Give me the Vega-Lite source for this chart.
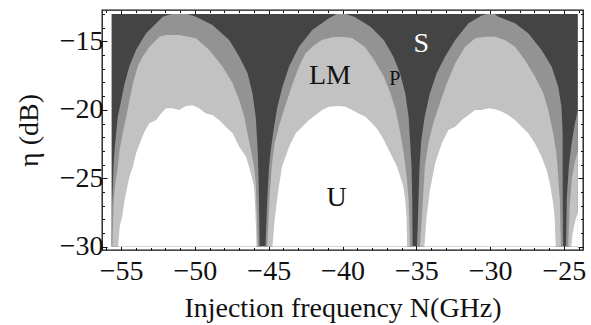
{
  "$schema": "https://vega.github.io/schema/vega-lite/v6.json",
  "autosize": {"type": "none"},
  "width": 481,
  "height": 240,
  "padding": {"left": 102, "top": 10, "right": 8, "bottom": 75},
  "background": "white",
  "config": {
    "view": {"stroke": "#111", "strokeWidth": 1.3},
    "font": "Liberation Serif",
    "axis": {"labelFont": "Liberation Serif", "titleFont": "Liberation Serif", "labelFontSize": 28, "titleFontSize": 28, "labelColor": "#111", "titleColor": "#111", "titleFontWeight": "normal", "domain": false, "grid": false, "tickColor": "#111", "tickWidth": 1}
  },
  "datasets": {
    "bg": [{"x": -55.65, "x2": -24.05, "y": -30, "y2": -13}],
    "regions": [
      {"r":"P","l":1,"x":-55.65,"y":-30},{"r":"P","l":1,"x":-55.62,"y":-27},{"r":"P","l":1,"x":-55.56,"y":-25.4},{"r":"P","l":1,"x":-55.52,"y":-24.2},{"r":"P","l":1,"x":-55.45,"y":-22.9},{"r":"P","l":1,"x":-55.34,"y":-21.7},{"r":"P","l":1,"x":-55.23,"y":-20.5},{"r":"P","l":1,"x":-55.0,"y":-19.3},{"r":"P","l":1,"x":-54.77,"y":-18.1},{"r":"P","l":1,"x":-54.44,"y":-16.8},{"r":"P","l":1,"x":-53.99,"y":-15.6},{"r":"P","l":1,"x":-53.31,"y":-14.4},{"r":"P","l":1,"x":-52.18,"y":-13.2},{"r":"P","l":1,"x":-51.6,"y":-13.0},{"r":"P","l":1,"x":-50.5,"y":-13.0},{"r":"P","l":1,"x":-49.93,"y":-13.2},{"r":"P","l":1,"x":-48.81,"y":-13.8},{"r":"P","l":1,"x":-47.68,"y":-14.9},{"r":"P","l":1,"x":-47.0,"y":-16.1},{"r":"P","l":1,"x":-46.44,"y":-17.3},{"r":"P","l":1,"x":-46.1,"y":-18.8},{"r":"P","l":1,"x":-45.88,"y":-20.5},{"r":"P","l":1,"x":-45.75,"y":-22.9},{"r":"P","l":1,"x":-45.68,"y":-25.4},{"r":"P","l":1,"x":-45.64,"y":-28},{"r":"P","l":1,"x":-45.62,"y":-30},
      {"r":"LM","l":1,"x":-55.6,"y":-30},{"r":"LM","l":1,"x":-55.5,"y":-26.6},{"r":"LM","l":1,"x":-55.4,"y":-25.4},{"r":"LM","l":1,"x":-55.23,"y":-24.2},{"r":"LM","l":1,"x":-55.11,"y":-22.9},{"r":"LM","l":1,"x":-54.89,"y":-21.7},{"r":"LM","l":1,"x":-54.66,"y":-20.5},{"r":"LM","l":1,"x":-54.44,"y":-19.3},{"r":"LM","l":1,"x":-54.21,"y":-18.1},{"r":"LM","l":1,"x":-53.87,"y":-16.8},{"r":"LM","l":1,"x":-53.54,"y":-16.1},{"r":"LM","l":1,"x":-53.09,"y":-15.4},{"r":"LM","l":1,"x":-52.41,"y":-14.65},{"r":"LM","l":1,"x":-51.96,"y":-14.52},{"r":"LM","l":1,"x":-51.06,"y":-14.52},{"r":"LM","l":1,"x":-49.93,"y":-14.77},{"r":"LM","l":1,"x":-49.03,"y":-15.62},{"r":"LM","l":1,"x":-48.13,"y":-16.84},{"r":"LM","l":1,"x":-47.45,"y":-18.06},{"r":"LM","l":1,"x":-47.0,"y":-19.28},{"r":"LM","l":1,"x":-46.66,"y":-20.5},{"r":"LM","l":1,"x":-46.44,"y":-21.72},{"r":"LM","l":1,"x":-46.21,"y":-22.94},{"r":"LM","l":1,"x":-45.99,"y":-24.16},{"r":"LM","l":1,"x":-45.88,"y":-25.37},{"r":"LM","l":1,"x":-45.8,"y":-27.8},{"r":"LM","l":1,"x":-45.75,"y":-30},
      {"r":"U","l":1,"x":-55.2,"y":-30},{"r":"U","l":1,"x":-55.1,"y":-28.5},{"r":"U","l":1,"x":-54.93,"y":-27.8},{"r":"U","l":1,"x":-54.77,"y":-26.6},{"r":"U","l":1,"x":-54.44,"y":-24.9},{"r":"U","l":1,"x":-54.21,"y":-24.16},{"r":"U","l":1,"x":-53.99,"y":-23.18},{"r":"U","l":1,"x":-53.65,"y":-22.21},{"r":"U","l":1,"x":-53.42,"y":-21.6},{"r":"U","l":1,"x":-53.09,"y":-20.99},{"r":"U","l":1,"x":-52.63,"y":-20.74},{"r":"U","l":1,"x":-52.3,"y":-20.26},{"r":"U","l":1,"x":-51.96,"y":-19.89},{"r":"U","l":1,"x":-51.51,"y":-19.89},{"r":"U","l":1,"x":-51.06,"y":-20.01},{"r":"U","l":1,"x":-50.61,"y":-19.72},{"r":"U","l":1,"x":-50.16,"y":-19.67},{"r":"U","l":1,"x":-49.71,"y":-19.89},{"r":"U","l":1,"x":-49.26,"y":-20.26},{"r":"U","l":1,"x":-48.81,"y":-20.38},{"r":"U","l":1,"x":-48.36,"y":-20.74},{"r":"U","l":1,"x":-47.91,"y":-21.23},{"r":"U","l":1,"x":-47.45,"y":-21.72},{"r":"U","l":1,"x":-47.0,"y":-22.7},{"r":"U","l":1,"x":-46.55,"y":-23.42},{"r":"U","l":1,"x":-46.33,"y":-24.16},{"r":"U","l":1,"x":-46.1,"y":-25.13},{"r":"U","l":1,"x":-45.99,"y":-25.62},{"r":"U","l":1,"x":-45.92,"y":-27.08},{"r":"U","l":1,"x":-45.85,"y":-29.03},{"r":"U","l":1,"x":-45.83,"y":-30},
      {"r":"P","l":2,"x":-45.22,"y":-30},{"r":"P","l":2,"x":-45.1,"y":-26.6},{"r":"P","l":2,"x":-44.98,"y":-24.16},{"r":"P","l":2,"x":-44.86,"y":-22.94},{"r":"P","l":2,"x":-44.64,"y":-21.23},{"r":"P","l":2,"x":-44.41,"y":-19.77},{"r":"P","l":2,"x":-44.07,"y":-18.31},{"r":"P","l":2,"x":-43.62,"y":-16.84},{"r":"P","l":2,"x":-42.95,"y":-15.38},{"r":"P","l":2,"x":-42.05,"y":-14.16},{"r":"P","l":2,"x":-40.92,"y":-13.3},{"r":"P","l":2,"x":-40.4,"y":-13.0},{"r":"P","l":2,"x":-39.8,"y":-13.0},{"r":"P","l":2,"x":-39.2,"y":-13.19},{"r":"P","l":2,"x":-38.1,"y":-13.92},{"r":"P","l":2,"x":-37.2,"y":-14.89},{"r":"P","l":2,"x":-36.55,"y":-16.11},{"r":"P","l":2,"x":-36.1,"y":-17.33},{"r":"P","l":2,"x":-35.75,"y":-18.79},{"r":"P","l":2,"x":-35.52,"y":-20.5},{"r":"P","l":2,"x":-35.42,"y":-22.21},{"r":"P","l":2,"x":-35.32,"y":-24.16},{"r":"P","l":2,"x":-35.27,"y":-26.59},{"r":"P","l":2,"x":-35.25,"y":-30},
      {"r":"LM","l":2,"x":-45.1,"y":-30},{"r":"LM","l":2,"x":-44.95,"y":-26.59},{"r":"LM","l":2,"x":-44.8,"y":-24.16},{"r":"LM","l":2,"x":-44.6,"y":-22.45},{"r":"LM","l":2,"x":-44.25,"y":-20.99},{"r":"LM","l":2,"x":-43.9,"y":-19.77},{"r":"LM","l":2,"x":-43.45,"y":-18.31},{"r":"LM","l":2,"x":-42.95,"y":-16.84},{"r":"LM","l":2,"x":-42.5,"y":-15.87},{"r":"LM","l":2,"x":-42.05,"y":-15.38},{"r":"LM","l":2,"x":-41.4,"y":-14.9},{"r":"LM","l":2,"x":-40.7,"y":-14.7},{"r":"LM","l":2,"x":-40.02,"y":-14.65},{"r":"LM","l":2,"x":-39.35,"y":-14.75},{"r":"LM","l":2,"x":-38.5,"y":-15.38},{"r":"LM","l":2,"x":-37.85,"y":-16.35},{"r":"LM","l":2,"x":-37.2,"y":-17.57},{"r":"LM","l":2,"x":-36.75,"y":-18.79},{"r":"LM","l":2,"x":-36.4,"y":-20.0},{"r":"LM","l":2,"x":-36.08,"y":-21.72},{"r":"LM","l":2,"x":-35.85,"y":-23.18},{"r":"LM","l":2,"x":-35.65,"y":-24.89},{"r":"LM","l":2,"x":-35.52,"y":-26.59},{"r":"LM","l":2,"x":-35.42,"y":-30},
      {"r":"U","l":2,"x":-44.75,"y":-30},{"r":"U","l":2,"x":-44.6,"y":-28.05},{"r":"U","l":2,"x":-44.35,"y":-25.86},{"r":"U","l":2,"x":-44.1,"y":-24.16},{"r":"U","l":2,"x":-43.62,"y":-22.7},{"r":"U","l":2,"x":-43.17,"y":-21.72},{"r":"U","l":2,"x":-42.72,"y":-21.23},{"r":"U","l":2,"x":-42.27,"y":-20.74},{"r":"U","l":2,"x":-41.82,"y":-20.38},{"r":"U","l":2,"x":-41.37,"y":-20.01},{"r":"U","l":2,"x":-40.92,"y":-19.77},{"r":"U","l":2,"x":-40.25,"y":-19.72},{"r":"U","l":2,"x":-39.8,"y":-19.77},{"r":"U","l":2,"x":-39.35,"y":-20.01},{"r":"U","l":2,"x":-38.9,"y":-20.26},{"r":"U","l":2,"x":-38.45,"y":-20.5},{"r":"U","l":2,"x":-38.0,"y":-20.99},{"r":"U","l":2,"x":-37.6,"y":-21.48},{"r":"U","l":2,"x":-37.2,"y":-22.21},{"r":"U","l":2,"x":-36.75,"y":-23.18},{"r":"U","l":2,"x":-36.3,"y":-24.16},{"r":"U","l":2,"x":-36.08,"y":-24.89},{"r":"U","l":2,"x":-35.88,"y":-25.62},{"r":"U","l":2,"x":-35.75,"y":-26.59},{"r":"U","l":2,"x":-35.66,"y":-27.81},{"r":"U","l":2,"x":-35.62,"y":-30},
      {"r":"P","l":3,"x":-34.95,"y":-30},{"r":"P","l":3,"x":-34.85,"y":-26.6},{"r":"P","l":3,"x":-34.78,"y":-24.16},{"r":"P","l":3,"x":-34.66,"y":-22.2},{"r":"P","l":3,"x":-34.43,"y":-20.5},{"r":"P","l":3,"x":-34.08,"y":-18.8},{"r":"P","l":3,"x":-33.62,"y":-17.33},{"r":"P","l":3,"x":-33.05,"y":-16.11},{"r":"P","l":3,"x":-32.36,"y":-14.89},{"r":"P","l":3,"x":-31.46,"y":-13.67},{"r":"P","l":3,"x":-30.56,"y":-13.1},{"r":"P","l":3,"x":-30.2,"y":-13.0},{"r":"P","l":3,"x":-29.7,"y":-13.0},{"r":"P","l":3,"x":-29.44,"y":-13.19},{"r":"P","l":3,"x":-28.31,"y":-13.67},{"r":"P","l":3,"x":-27.41,"y":-14.4},{"r":"P","l":3,"x":-26.51,"y":-15.62},{"r":"P","l":3,"x":-25.83,"y":-16.84},{"r":"P","l":3,"x":-25.38,"y":-18.31},{"r":"P","l":3,"x":-25.16,"y":-19.77},{"r":"P","l":3,"x":-25.08,"y":-21.72},{"r":"P","l":3,"x":-25.05,"y":-24.16},{"r":"P","l":3,"x":-25.05,"y":-27},{"r":"P","l":3,"x":-25.08,"y":-30},
      {"r":"LM","l":3,"x":-34.75,"y":-30},{"r":"LM","l":3,"x":-34.55,"y":-26.6},{"r":"LM","l":3,"x":-34.42,"y":-24.16},{"r":"LM","l":3,"x":-34.18,"y":-22.45},{"r":"LM","l":3,"x":-33.85,"y":-20.99},{"r":"LM","l":3,"x":-33.4,"y":-19.52},{"r":"LM","l":3,"x":-32.93,"y":-18.06},{"r":"LM","l":3,"x":-32.36,"y":-16.6},{"r":"LM","l":3,"x":-31.69,"y":-15.38},{"r":"LM","l":3,"x":-31.01,"y":-14.77},{"r":"LM","l":3,"x":-30.33,"y":-14.65},{"r":"LM","l":3,"x":-29.66,"y":-14.65},{"r":"LM","l":3,"x":-28.99,"y":-14.89},{"r":"LM","l":3,"x":-28.31,"y":-15.38},{"r":"LM","l":3,"x":-27.64,"y":-16.35},{"r":"LM","l":3,"x":-26.96,"y":-17.57},{"r":"LM","l":3,"x":-26.39,"y":-18.79},{"r":"LM","l":3,"x":-26.06,"y":-20.0},{"r":"LM","l":3,"x":-25.72,"y":-21.72},{"r":"LM","l":3,"x":-25.5,"y":-23.18},{"r":"LM","l":3,"x":-25.38,"y":-24.89},{"r":"LM","l":3,"x":-25.27,"y":-26.59},{"r":"LM","l":3,"x":-25.2,"y":-30},
      {"r":"U","l":3,"x":-34.45,"y":-30},{"r":"U","l":3,"x":-34.3,"y":-27.8},{"r":"U","l":3,"x":-34.07,"y":-25.86},{"r":"U","l":3,"x":-33.72,"y":-23.91},{"r":"U","l":3,"x":-33.27,"y":-22.45},{"r":"U","l":3,"x":-32.82,"y":-21.48},{"r":"U","l":3,"x":-32.36,"y":-21.23},{"r":"U","l":3,"x":-31.91,"y":-20.74},{"r":"U","l":3,"x":-31.46,"y":-20.38},{"r":"U","l":3,"x":-31.01,"y":-20.01},{"r":"U","l":3,"x":-30.56,"y":-20.01},{"r":"U","l":3,"x":-30.11,"y":-19.89},{"r":"U","l":3,"x":-29.66,"y":-19.96},{"r":"U","l":3,"x":-29.21,"y":-20.13},{"r":"U","l":3,"x":-28.76,"y":-20.38},{"r":"U","l":3,"x":-28.31,"y":-20.74},{"r":"U","l":3,"x":-27.86,"y":-21.23},{"r":"U","l":3,"x":-27.41,"y":-21.72},{"r":"U","l":3,"x":-26.96,"y":-22.45},{"r":"U","l":3,"x":-26.51,"y":-23.42},{"r":"U","l":3,"x":-26.17,"y":-24.4},{"r":"U","l":3,"x":-25.95,"y":-25.37},{"r":"U","l":3,"x":-25.72,"y":-26.84},{"r":"U","l":3,"x":-25.61,"y":-28.05},{"r":"U","l":3,"x":-25.55,"y":-30},
      {"r":"P","l":4,"x":-24.85,"y":-30},{"r":"P","l":4,"x":-24.8,"y":-26.5},{"r":"P","l":4,"x":-24.65,"y":-24},{"r":"P","l":4,"x":-24.45,"y":-22.3},{"r":"P","l":4,"x":-24.25,"y":-21},{"r":"P","l":4,"x":-24.05,"y":-20},
      {"r":"LM","l":4,"x":-24.7,"y":-30},{"r":"LM","l":4,"x":-24.6,"y":-27},{"r":"LM","l":4,"x":-24.45,"y":-25},{"r":"LM","l":4,"x":-24.25,"y":-23.8},{"r":"LM","l":4,"x":-24.05,"y":-23},
      {"r":"U","l":4,"x":-24.5,"y":-30},{"r":"U","l":4,"x":-24.4,"y":-29},{"r":"U","l":4,"x":-24.2,"y":-28},{"r":"U","l":4,"x":-24.05,"y":-27.5}
    ],
    "labels": [
      {"t": "S", "x": -34.66, "y": -15.15},
      {"t": "LM", "x": -40.85, "y": -17.55},
      {"t": "P", "x": -36.45, "y": -17.75},
      {"t": "U", "x": -40.4, "y": -26.45}
    ]
  },
  "layer": [
    {
      "encoding": {
        "x": {"field": "x", "type": "quantitative",
          "scale": {"domain": [-56.3, -23.7], "nice": false, "zero": false},
          "axis": {"orient": "bottom", "title": "Injection frequency N(GHz)", "titleFont": "Liberation Serif", "titleFontSize": 28, "titleFontWeight": "normal", "titlePadding": 7, "labelFont": "Liberation Serif", "labelFontSize": 28, "labelPadding": 12, "labelOverlap": false, "labelFlush": false,
            "values": [-56,-55,-54,-53,-52,-51,-50,-49,-48,-47,-46,-45,-44,-43,-42,-41,-40,-39,-38,-37,-36,-35,-34,-33,-32,-31,-30,-29,-28,-27,-26,-25,-24],
            "labelExpr": "datum.value % 5 === 0 ? datum.label : ''",
            "tickSize": {"condition": {"test": "datum.value % 5 === 0", "value": -5}, "value": -2.5}}},
        "y": {"field": "y", "type": "quantitative",
          "scale": {"domain": [-30.25, -12.7], "nice": false, "zero": false},
          "axis": {"orient": "left", "title": "η (dB)", "titleFont": "Liberation Serif", "titleFontSize": 28, "titleFontWeight": "normal", "titlePadding": 16, "labelFont": "Liberation Serif", "labelFontSize": 28, "labelPadding": 4, "labelOverlap": false, "labelFlush": false,
            "values": [-30,-29,-28,-27,-26,-25,-24,-23,-22,-21,-20,-19,-18,-17,-16,-15,-14,-13],
            "labelExpr": "datum.value % 5 === 0 ? datum.label : ''",
            "tickSize": {"condition": {"test": "datum.value % 5 === 0", "value": -5}, "value": -2.5}}}
      },
      "layer": [
        {"data": {"name": "bg"}, "mark": {"type": "rect", "color": "#444444"},
         "encoding": {"x2": {"field": "x2"}, "y2": {"field": "y2"}}},
        {"data": {"name": "regions"}, "transform": [{"filter": "datum.r === 'P'"}],
         "mark": {"type": "area", "color": "#939393", "interpolate": "linear"},
         "encoding": {"y2": {"datum": -30}, "detail": {"field": "l"}}},
        {"data": {"name": "regions"}, "transform": [{"filter": "datum.r === 'LM'"}],
         "mark": {"type": "area", "color": "#c2c2c2", "interpolate": "linear"},
         "encoding": {"y2": {"datum": -30}, "detail": {"field": "l"}}},
        {"data": {"name": "regions"}, "transform": [{"filter": "datum.r === 'U'"}],
         "mark": {"type": "area", "color": "#ffffff", "interpolate": "linear"},
         "encoding": {"y2": {"datum": -30}, "detail": {"field": "l"}}},
        {"data": {"name": "labels"}, "transform": [{"filter": "datum.t === 'LM' || datum.t === 'U'"}],
         "mark": {"type": "text", "font": "Liberation Serif", "fontSize": 28, "color": "#111", "align": "center", "baseline": "middle"},
         "encoding": {"text": {"field": "t"}}},
        {"data": {"name": "labels"}, "transform": [{"filter": "datum.t === 'P'"}],
         "mark": {"type": "text", "font": "Liberation Serif", "fontSize": 20, "color": "#111", "align": "center", "baseline": "middle"},
         "encoding": {"text": {"field": "t"}}},
        {"data": {"name": "labels"}, "transform": [{"filter": "datum.t === 'S'"}],
         "mark": {"type": "text", "font": "Liberation Serif", "fontSize": 28, "color": "#ffffff", "align": "center", "baseline": "middle"},
         "encoding": {"text": {"field": "t"}}}
      ]
    },
    {
      "data": {"name": "bg"},
      "mark": {"type": "point", "opacity": 0},
      "encoding": {
        "x": {"field": "x", "type": "quantitative",
          "scale": {"domain": [-56.3, -23.7], "nice": false, "zero": false},
          "axis": {"orient": "top", "title": null, "labels": false,
            "values": [-56,-55,-54,-53,-52,-51,-50,-49,-48,-47,-46,-45,-44,-43,-42,-41,-40,-39,-38,-37,-36,-35,-34,-33,-32,-31,-30,-29,-28,-27,-26,-25,-24],
            "tickSize": {"condition": {"test": "datum.value % 5 === 0", "value": -5}, "value": -2.5}}},
        "y": {"field": "y", "type": "quantitative",
          "scale": {"domain": [-30.25, -12.7], "nice": false, "zero": false},
          "axis": {"orient": "right", "title": null, "labels": false,
            "values": [-30,-29,-28,-27,-26,-25,-24,-23,-22,-21,-20,-19,-18,-17,-16,-15,-14,-13],
            "tickSize": {"condition": {"test": "datum.value % 5 === 0", "value": -5}, "value": -2.5}}}
      }
    }
  ],
  "resolve": {"scale": {"x": "independent", "y": "independent"}}
}
